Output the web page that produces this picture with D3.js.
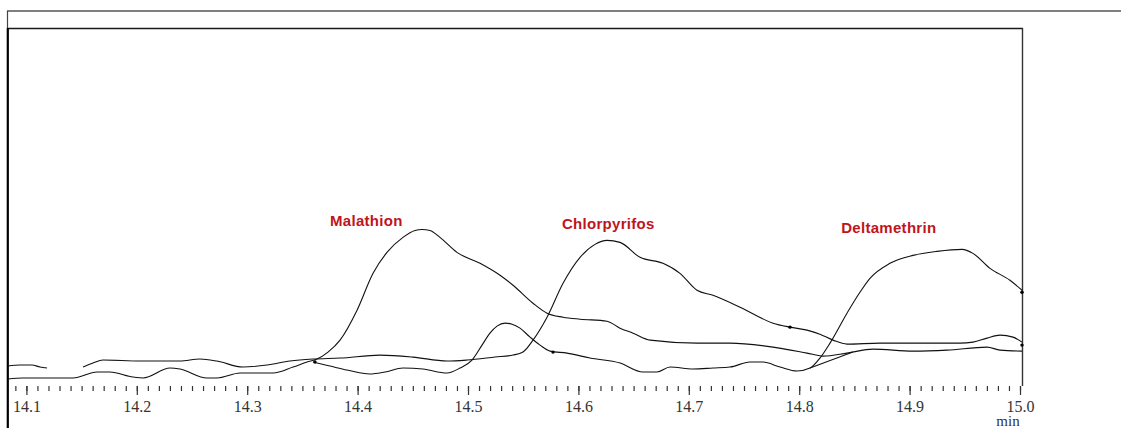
<!DOCTYPE html>
<html>
<head>
<meta charset="utf-8">
<script src="https://cdn.jsdelivr.net/npm/d3@7"></script>
<style>
  html, body { margin: 0; padding: 0; background: #fff; }
  svg { display: block; }
</style>
</head>
<body>
<svg id="chart" width="1121" height="428"></svg>
<script>
// Retention time (min) vs detector response (arbitrary units)

// Trace carrying the chlorpyrifos peak (null marks a break in the record)
const traceChlorpyrifos = [
  [14.0833, 19], [14.0942, 20], [14.1051, 20], [14.1123, 18], [14.1187, 17],
  null,
  [14.1513, 18], [14.1603, 22], [14.1694, 25], [14.2029, 24], [14.2391, 24],
  [14.2572, 26], [14.2726, 24], [14.2962, 18], [14.3179, 20], [14.3388, 24],
  [14.3596, 26], [14.3841, 27], [14.4203, 30], [14.4502, 28], [14.4810, 24],
  [14.4991, 25], [14.5245, 28], [14.5408, 30], [14.5498, 33], [14.5589, 45],
  [14.5716, 68], [14.5861, 102], [14.6015, 128], [14.6150, 141], [14.6259, 145],
  [14.6377, 143], [14.6558, 128], [14.6766, 122], [14.6920, 112], [14.7074, 95],
  [14.7219, 90], [14.7464, 78], [14.7763, 62], [14.7917, 58], [14.8071, 55],
  [14.8188, 51], [14.8306, 45], [14.8433, 41], [14.8732, 42], [14.9031, 42],
  [14.9457, 42], [14.9574, 43], [14.9701, 47], [14.9819, 50], [14.9937, 48],
  [15.0018, 43]
];

// Trace carrying the malathion peak
const traceMalathion = [
  [14.0833, 6], [14.0969, 7], [14.1422, 7], [14.1640, 13], [14.1757, 13],
  [14.1966, 8], [14.2056, 7], [14.2301, 17], [14.2391, 16], [14.2636, 7],
  [14.2726, 7], [14.2935, 12], [14.3234, 12], [14.3415, 18], [14.3542, 23],
  [14.3632, 26], [14.3732, 33], [14.3841, 45], [14.3995, 75], [14.4140, 112],
  [14.4266, 133], [14.4411, 148], [14.4520, 155], [14.4583, 156], [14.4656, 155],
  [14.4746, 148], [14.4900, 133], [14.5109, 122], [14.5290, 110], [14.5408, 100],
  [14.5589, 82], [14.5716, 72], [14.5861, 68], [14.6015, 66], [14.6259, 64],
  [14.6377, 57], [14.6495, 52], [14.6649, 45], [14.7074, 42], [14.7373, 42],
  [14.7763, 38], [14.8071, 32], [14.8216, 29], [14.8433, 32], [14.8668, 36],
  [14.9031, 34], [14.9339, 35], [14.9701, 38], [14.9819, 35], [15.0018, 34]
];

// Trace carrying the deltamethrin peak
const traceDeltamethrin = [
  [14.3596, 23], [14.3750, 19], [14.3904, 15], [14.4112, 11], [14.4248, 13],
  [14.4411, 17], [14.4592, 16], [14.4810, 12], [14.4928, 17], [14.5036, 25],
  [14.5127, 40], [14.5199, 52], [14.5263, 59], [14.5335, 62], [14.5399, 61],
  [14.5471, 57], [14.5562, 48], [14.5652, 40], [14.5743, 34], [14.5897, 32],
  [14.6105, 27], [14.6377, 22], [14.6585, 13], [14.6712, 13], [14.6830, 18],
  [14.7038, 16], [14.7219, 17], [14.7373, 18], [14.7554, 23], [14.7672, 23],
  [14.7826, 18], [14.7980, 14], [14.8098, 17], [14.8188, 27], [14.8279, 42],
  [14.8433, 72], [14.8550, 93], [14.8641, 107], [14.8822, 122], [14.9031, 130],
  [14.9248, 134], [14.9475, 136], [14.9574, 132], [14.9728, 117], [14.9909, 105],
  [15.0018, 95]
];

// Integration baseline drawn under the start of the deltamethrin peak
const integrationBaseline = [[14.8098, 17], [14.8487, 33]];

// Peak start / end markers
const peakMarkers = [
  [14.3614, 23], [14.5770, 33], [14.7917, 58], [15.0018, 93], [15.0018, 40]
];

// Peak labels: name, retention time at the label's left edge, height of its baseline
const peakNames = ["Malathion", "Chlorpyrifos", "Deltamethrin"];
const labelTimes = [14.3750, 14.5851, 14.8380];
const labelLevels = [159, 156, 152];

// Axis ticks
const majorTicks = [14.1, 14.2, 14.3, 14.4, 14.5, 14.6, 14.7, 14.8, 14.9, 15.0];
const minorTicks = d3.range(9, 101).map(i => +(14 + i / 100).toFixed(2));
const axisUnit = "min";

const svg = d3.select("#chart");

const plot = { left: 7, right: 1022, top: 28, bottom: 386 };

const x = d3.scaleLinear().domain([14.1, 15.0]).range([26.4, 1020]);
const y = d3.scaleLinear().domain([0, 358]).range([plot.bottom - 1, plot.top]);

// Frames
svg.append("line").attr("x1", 7).attr("x2", 1121).attr("y1", 11).attr("y2", 11)
  .attr("stroke", "#555").attr("stroke-width", 1.5);
svg.append("line").attr("x1", 7.5).attr("x2", 7.5).attr("y1", 11).attr("y2", 28)
  .attr("stroke", "#444").attr("stroke-width", 1.2);
svg.append("line").attr("x1", plot.left).attr("x2", plot.right + 1).attr("y1", 28.5).attr("y2", 28.5)
  .attr("stroke", "#1a1a1a").attr("stroke-width", 1.6);
svg.append("line").attr("x1", 7.8).attr("x2", 7.8).attr("y1", 28).attr("y2", 428)
  .attr("stroke", "#000").attr("stroke-width", 2.2);
svg.append("line").attr("x1", plot.right + 0.5).attr("x2", plot.right + 0.5).attr("y1", 28).attr("y2", plot.bottom)
  .attr("stroke", "#333").attr("stroke-width", 1.4);

// Axis: minor and major ticks
const minorAxis = d3.axisBottom(x).tickValues(minorTicks).tickSize(5).tickFormat("");
const majorAxis = d3.axisBottom(x).tickValues(majorTicks).tickSize(9).tickPadding(6)
  .tickFormat(d3.format(".1f"));

const gMinor = svg.append("g").attr("transform", `translate(0,${plot.bottom})`).call(minorAxis);
gMinor.select(".domain").remove();
gMinor.selectAll(".tick line").attr("stroke", "#333").attr("stroke-width", 1.2);

const gMajor = svg.append("g").attr("transform", `translate(0,${plot.bottom})`).call(majorAxis);
gMajor.select(".domain").remove();
gMajor.selectAll(".tick line").attr("stroke", "#333").attr("stroke-width", 1.2);
gMajor.selectAll(".tick text")
  .attr("font-family", "'Liberation Serif', 'Times New Roman', serif")
  .attr("font-size", 16).attr("fill", "#333");

svg.append("text").attr("x", x(15.0) - 12).attr("y", 426)
  .attr("text-anchor", "middle")
  .attr("font-family", "'Liberation Serif', 'Times New Roman', serif")
  .attr("font-size", 15).attr("fill", "#333").text(axisUnit);

// Traces
const line = d3.line()
  .defined(d => d !== null)
  .x(d => x(d[0]))
  .y(d => y(d[1]))
  .curve(d3.curveMonotoneX);

const traces = [traceChlorpyrifos, traceMalathion, traceDeltamethrin];
svg.append("g").selectAll("path").data(traces).join("path")
  .attr("d", line)
  .attr("fill", "none")
  .attr("stroke", "#111")
  .attr("stroke-width", 1.1)
  .attr("stroke-linejoin", "round");

svg.append("path").datum(integrationBaseline)
  .attr("d", d3.line().x(d => x(d[0])).y(d => y(d[1])))
  .attr("fill", "none").attr("stroke", "#111").attr("stroke-width", 1.1);

svg.append("g").selectAll("circle").data(peakMarkers).join("circle")
  .attr("cx", d => x(d[0])).attr("cy", d => y(d[1])).attr("r", 1.7)
  .attr("fill", "#000");

// Peak labels
svg.append("g").selectAll("text").data(peakNames).join("text")
  .attr("x", (d, i) => x(labelTimes[i]))
  .attr("y", (d, i) => y(labelLevels[i]))
  .attr("font-family", "'Liberation Sans', Arial, sans-serif")
  .attr("font-weight", "bold")
  .attr("font-size", 15)
  .attr("letter-spacing", 0.3)
  .attr("fill", "#c0141c")
  .text(d => d);
</script>
</body>
</html>
